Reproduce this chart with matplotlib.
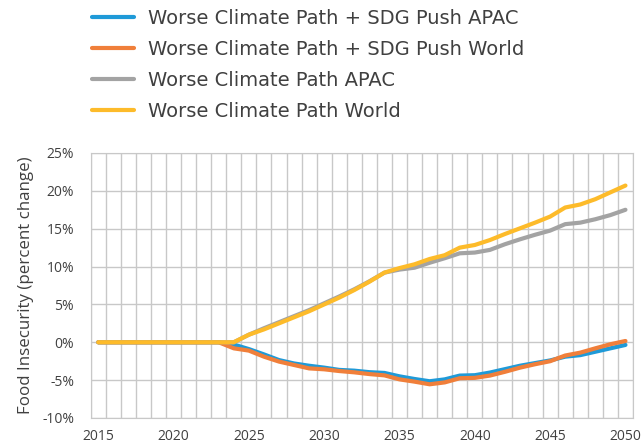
import numpy as np
import matplotlib.pyplot as plt

years = np.arange(2015, 2051)

# percent change
sdg_apac = [0, 0, 0, 0, 0, 0, 0, 0, 0, -0.3, -0.9, -1.6, -2.35, -2.8, -3.1,
            -3.35, -3.65, -3.75, -3.95, -4.05, -4.5, -4.85, -5.15, -4.9, -4.4,
            -4.35, -4.0, -3.55, -3.1, -2.75, -2.4, -1.9, -1.7, -1.25, -0.8, -0.35]
sdg_world = [0, 0, 0, 0, 0, 0, 0, 0, 0, -0.8, -1.1, -1.9, -2.55, -3.0, -3.45,
             -3.57, -3.8, -3.97, -4.2, -4.37, -4.9, -5.2, -5.55, -5.3, -4.75,
             -4.7, -4.4, -3.9, -3.35, -2.9, -2.5, -1.75, -1.37, -0.8, -0.26, 0.17]
worse_apac = [0, 0, 0, 0, 0, 0, 0, 0, 0, 0, 1.0, 1.85, 2.65, 3.45, 4.25,
              5.15, 6.05, 7.0, 8.05, 9.2, 9.6, 9.85, 10.5, 11.1, 11.75,
              11.85, 12.2, 12.95, 13.6, 14.2, 14.75, 15.6, 15.8, 16.25, 16.8, 17.5]
worse_world = [0, 0, 0, 0, 0, 0, 0, 0, 0, 0, 1.0, 1.7, 2.5, 3.3, 4.1,
               5.0, 5.9, 6.9, 8.0, 9.2, 9.8, 10.3, 11.0, 11.5, 12.5,
               12.85, 13.5, 14.3, 15.05, 15.8, 16.6, 17.8, 18.2, 18.9, 19.8, 20.7]

labels = ["Worse Climate Path + SDG Push APAC",
          "Worse Climate Path + SDG Push World",
          "Worse Climate Path APAC",
          "Worse Climate Path World"]
colors = ["#1F9AD8", "#F07F3A", "#A3A3A3", "#FDBB2A"]

plt.rcParams['font.family'] = ['Open Sans', 'DejaVu Sans']

fig = plt.figure(figsize=(6.41, 4.48), dpi=100)
ax = fig.add_axes([0.1415, 0.067, 0.846, 0.5915])

for ys, lab, c in zip([sdg_apac, sdg_world, worse_apac, worse_world], labels, colors):
    ax.plot(years, ys, color=c, lw=3, label=lab, solid_capstyle='round')

ax.set_xlim(2014.5, 2050.5)
ax.set_ylim(-10, 25)
ax.set_xticks(np.arange(2015, 2051, 5))
ax.set_xticks(np.arange(2014.5, 2051, 1), minor=True)
ax.set_yticks(np.arange(-10, 26, 5))
ax.set_yticklabels([f"{v}%" for v in range(-10, 26, 5)])
ax.grid(False)
ax.grid(True, which='minor', axis='x', color='#c8c8c8', lw=1)
ax.grid(True, which='major', axis='y', color='#c8c8c8', lw=1)
ax.set_axisbelow(True)
for s in ax.spines.values():
    s.set_color('#c8c8c8')
ax.tick_params(which='both', length=0, colors='#404040', labelsize=10)
ax.tick_params(axis='y', pad=12)
ax.tick_params(axis='x', pad=8)
ax.set_ylabel("Food Insecurity (percent change)", fontsize=12.2, color='#404040', labelpad=6)

fig.legend(loc='upper left', bbox_to_anchor=(0.1435, 0.98), frameon=False,
           borderpad=0, borderaxespad=0,
           prop={'family': 'DejaVu Sans', 'size': 14},
           handlelength=2.17, handletextpad=0.7, labelspacing=0.62,
           labelcolor='#404040')

fig.savefig("out.png", dpi=100)
